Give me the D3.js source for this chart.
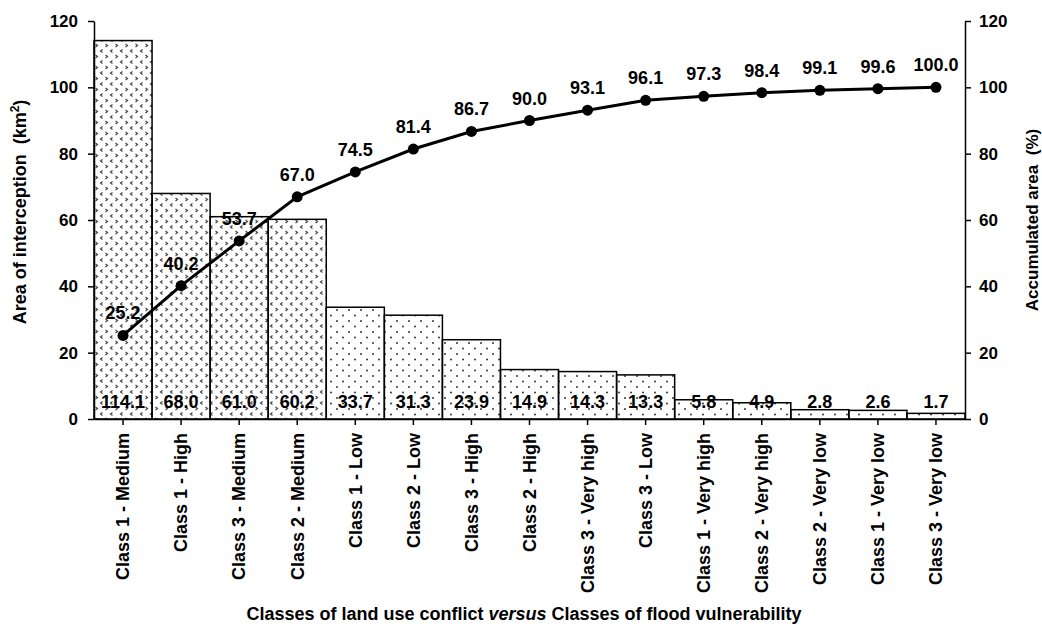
<!DOCTYPE html>
<html>
<head>
<meta charset="utf-8">
<script src="https://cdn.jsdelivr.net/npm/d3@7"></script>
<style>
    body { margin: 0; background: #fff; }
    svg text { font-family: "Liberation Sans", Arial, sans-serif; font-weight: bold; fill: #000; }
</style>
</head>
<body>
<svg id="chart" width="1042" height="625"></svg>
<script>
// chart data
const categories = [
    "Class 1 - Medium", "Class 1 - High", "Class 3 - Medium", "Class 2 - Medium",
    "Class 1 - Low", "Class 2 - Low", "Class 3 - High", "Class 2 - High",
    "Class 3 - Very high", "Class 3 - Low", "Class 1 - Very high", "Class 2 - Very high",
    "Class 2 - Very low", "Class 1 - Very low", "Class 3 - Very low"
];
const areas = [114.1, 68.0, 61.0, 60.2, 33.7, 31.3, 23.9, 14.9, 14.3, 13.3, 5.8, 4.9, 2.8, 2.6, 1.7];
const accumulated = [25.2, 40.2, 53.7, 67.0, 74.5, 81.4, 86.7, 90.0, 93.1, 96.1, 97.3, 98.4, 99.1, 99.6, 100.0];
// bars with the zigzag hatch (the four biggest)
const zigzagBars = ["Class 1 - Medium", "Class 1 - High", "Class 3 - Medium", "Class 2 - Medium"];
const yTicks = [0, 20, 40, 60, 80, 100, 120];

const svg = d3.select("#chart");
const margin = { top: 21, right: 77, bottom: 206, left: 94 };
const width = 1042 - margin.left - margin.right;
const height = 625 - margin.top - margin.bottom;

// patterns
const defs = svg.append("defs");
const zig = defs.append("pattern")
    .attr("id", "zigzag")
    .attr("patternUnits", "userSpaceOnUse")
    .attr("width", 10).attr("height", 11);
zig.append("path")
    .attr("d", "M1.5,1 L3.5,2.5 L1.5,4 M8.5,6.5 L6.5,8 L8.5,9.5")
    .attr("fill", "none")
    .attr("stroke", "#444")
    .attr("stroke-width", 1.2);

const dots = defs.append("pattern")
    .attr("id", "dots")
    .attr("patternUnits", "userSpaceOnUse")
    .attr("width", 12).attr("height", 11);
dots.append("circle").attr("cx", 3).attr("cy", 3).attr("r", 1).attr("fill", "#333");
dots.append("circle").attr("cx", 9).attr("cy", 8.5).attr("r", 1).attr("fill", "#333");

const g = svg.append("g").attr("transform", `translate(${margin.left},${margin.top})`);

const x = d3.scaleBand().domain(categories).range([0, width]).padding(0);
const yLeft = d3.scaleLinear().domain([0, 120]).range([height, 0]);
const yRight = d3.scaleLinear().domain([0, 120]).range([height, 0]);

// bars
g.selectAll("rect.bar")
    .data(categories)
    .enter()
    .append("rect")
    .attr("class", "bar")
    .attr("x", d => x(d))
    .attr("y", (d, i) => yLeft(areas[i]))
    .attr("width", x.bandwidth())
    .attr("height", (d, i) => height - yLeft(areas[i]))
    .attr("fill", d => zigzagBars.includes(d) ? "url(#zigzag)" : "url(#dots)")
    .attr("stroke", "#000")
    .attr("stroke-width", 1.5);

// bar value labels
g.selectAll("text.barval")
    .data(categories)
    .enter()
    .append("text")
    .attr("class", "barval")
    .attr("x", d => x(d) + x.bandwidth() / 2)
    .attr("y", height - 11)
    .attr("text-anchor", "middle")
    .attr("font-size", "18px")
    .text((d, i) => areas[i].toFixed(1));

// axes
const leftAxis = g.append("g")
    .call(d3.axisLeft(yLeft).tickValues(yTicks).tickSize(6).tickSizeOuter(0).tickPadding(10));
const rightAxis = g.append("g")
    .attr("transform", `translate(${width},0)`)
    .call(d3.axisRight(yRight).tickValues(yTicks).tickSize(6).tickSizeOuter(0).tickPadding(8));
const bottomAxis = g.append("g")
    .attr("transform", `translate(0,${height})`)
    .call(d3.axisBottom(x).tickSize(6).tickSizeOuter(0).tickPadding(6));

[leftAxis, rightAxis, bottomAxis].forEach(ax => {
    ax.select(".domain").attr("stroke", "#000").attr("stroke-width", 1.5);
    ax.selectAll(".tick line").attr("stroke", "#000").attr("stroke-width", 1.5);
    ax.selectAll("text").attr("font-size", "17px").attr("font-family", null);
});

bottomAxis.selectAll("text")
    .attr("font-size", "18px")
    .attr("text-anchor", "end")
    .attr("transform", "rotate(-90)")
    .attr("x", -14)
    .attr("y", 0)
    .attr("dy", "0.35em");

// accumulated line
const line = d3.line()
    .x((d, i) => x(categories[i]) + x.bandwidth() / 2)
    .y(d => yRight(d));

g.append("path")
    .datum(accumulated)
    .attr("d", line)
    .attr("fill", "none")
    .attr("stroke", "#000")
    .attr("stroke-width", 3);

g.selectAll("circle.pt")
    .data(accumulated)
    .enter()
    .append("circle")
    .attr("class", "pt")
    .attr("cx", (d, i) => x(categories[i]) + x.bandwidth() / 2)
    .attr("cy", d => yRight(d))
    .attr("r", 5.5)
    .attr("fill", "#000");

g.selectAll("text.accval")
    .data(accumulated)
    .enter()
    .append("text")
    .attr("class", "accval")
    .attr("x", (d, i) => x(categories[i]) + x.bandwidth() / 2)
    .attr("y", d => yRight(d) - 16)
    .attr("text-anchor", "middle")
    .attr("font-size", "18px")
    .text(d => d.toFixed(1));

// axis titles
const leftTitle = svg.append("text")
    .attr("transform", `translate(26,${margin.top + height / 2 - 8}) rotate(-90)`)
    .attr("text-anchor", "middle")
    .attr("font-size", "18px")
    .attr("xml:space", "preserve");
leftTitle.append("tspan").text("Area of interception  (km");
leftTitle.append("tspan").attr("font-size", "12px").attr("dy", "-7").text("2");
leftTitle.append("tspan").attr("dy", "7").text(")");

svg.append("text")
    .attr("transform", `translate(1038,${margin.top + height / 2}) rotate(-90)`)
    .attr("text-anchor", "middle")
    .attr("font-size", "17px")
    .attr("xml:space", "preserve")
    .text("Accumulated area  (%)");

const xTitle = svg.append("text")
    .attr("x", 524)
    .attr("y", 620)
    .attr("text-anchor", "middle")
    .attr("font-size", "18px")
    .attr("xml:space", "preserve");
xTitle.append("tspan").text("Classes of land use conflict ");
xTitle.append("tspan").attr("font-style", "italic").text("versus");
xTitle.append("tspan").text(" Classes of flood vulnerability");
</script>
</body>
</html>
